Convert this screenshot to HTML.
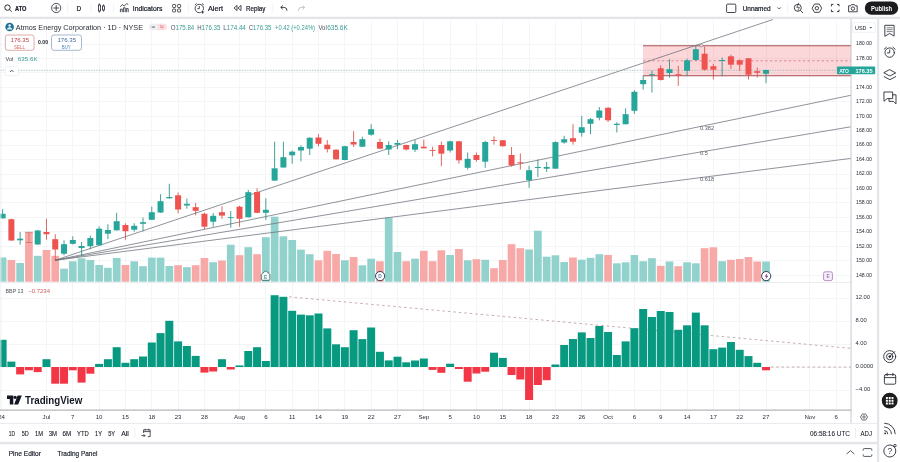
<!DOCTYPE html>
<html lang="en"><head><meta charset="utf-8"><title>ATO chart</title>
<style>html,body{margin:0;padding:0;background:#fff;width:900px;height:462px;overflow:hidden}svg{display:block}text{white-space:pre}</style>
</head><body>
<svg width="900" height="462" viewBox="0 0 900 462" font-family='"Liberation Sans", Arial, sans-serif'>
<rect width="900" height="462" fill="#fff"/>
<g stroke="#f4f5f7" stroke-width="1" shape-rendering="crispEdges">
<line x1="46.5" y1="19.5" x2="46.5" y2="410"/>
<line x1="72.8" y1="19.5" x2="72.8" y2="410"/>
<line x1="99.1" y1="19.5" x2="99.1" y2="410"/>
<line x1="125.5" y1="19.5" x2="125.5" y2="410"/>
<line x1="151.8" y1="19.5" x2="151.8" y2="410"/>
<line x1="178.1" y1="19.5" x2="178.1" y2="410"/>
<line x1="204.4" y1="19.5" x2="204.4" y2="410"/>
<line x1="239.5" y1="19.5" x2="239.5" y2="410"/>
<line x1="265.9" y1="19.5" x2="265.9" y2="410"/>
<line x1="292.2" y1="19.5" x2="292.2" y2="410"/>
<line x1="318.5" y1="19.5" x2="318.5" y2="410"/>
<line x1="344.8" y1="19.5" x2="344.8" y2="410"/>
<line x1="371.2" y1="19.5" x2="371.2" y2="410"/>
<line x1="397.5" y1="19.5" x2="397.5" y2="410"/>
<line x1="423.8" y1="19.5" x2="423.8" y2="410"/>
<line x1="450.1" y1="19.5" x2="450.1" y2="410"/>
<line x1="476.5" y1="19.5" x2="476.5" y2="410"/>
<line x1="502.8" y1="19.5" x2="502.8" y2="410"/>
<line x1="529.1" y1="19.5" x2="529.1" y2="410"/>
<line x1="555.4" y1="19.5" x2="555.4" y2="410"/>
<line x1="581.8" y1="19.5" x2="581.8" y2="410"/>
<line x1="608.1" y1="19.5" x2="608.1" y2="410"/>
<line x1="634.4" y1="19.5" x2="634.4" y2="410"/>
<line x1="660.7" y1="19.5" x2="660.7" y2="410"/>
<line x1="687.1" y1="19.5" x2="687.1" y2="410"/>
<line x1="713.4" y1="19.5" x2="713.4" y2="410"/>
<line x1="739.7" y1="19.5" x2="739.7" y2="410"/>
<line x1="766.0" y1="19.5" x2="766.0" y2="410"/>
<line x1="809.9" y1="19.5" x2="809.9" y2="410"/>
<line x1="836.2" y1="19.5" x2="836.2" y2="410"/>
<line x1="0" y1="275.2" x2="850.8" y2="275.2"/>
<line x1="0" y1="260.8" x2="850.8" y2="260.8"/>
<line x1="0" y1="246.3" x2="850.8" y2="246.3"/>
<line x1="0" y1="231.8" x2="850.8" y2="231.8"/>
<line x1="0" y1="217.4" x2="850.8" y2="217.4"/>
<line x1="0" y1="202.9" x2="850.8" y2="202.9"/>
<line x1="0" y1="188.5" x2="850.8" y2="188.5"/>
<line x1="0" y1="174.0" x2="850.8" y2="174.0"/>
<line x1="0" y1="159.6" x2="850.8" y2="159.6"/>
<line x1="0" y1="145.1" x2="850.8" y2="145.1"/>
<line x1="0" y1="130.7" x2="850.8" y2="130.7"/>
<line x1="0" y1="116.2" x2="850.8" y2="116.2"/>
<line x1="0" y1="101.8" x2="850.8" y2="101.8"/>
<line x1="0" y1="87.3" x2="850.8" y2="87.3"/>
<line x1="0" y1="72.9" x2="850.8" y2="72.9"/>
<line x1="0" y1="58.5" x2="850.8" y2="58.5"/>
<line x1="0" y1="44.0" x2="850.8" y2="44.0"/>
<line x1="0" y1="298.0" x2="850.8" y2="298.0"/>
<line x1="0" y1="321.0" x2="850.8" y2="321.0"/>
<line x1="0" y1="344.0" x2="850.8" y2="344.0"/>
<line x1="0" y1="367.0" x2="850.8" y2="367.0"/>
<line x1="0" y1="390.0" x2="850.8" y2="390.0"/>
</g>
<rect x="643" y="45.8" width="208.5" height="29.9" fill="#f23645" fill-opacity="0.2"/>
<line x1="643" y1="45.8" x2="851.5" y2="45.8" stroke="#a94c52" stroke-width="1.1"/>
<line x1="643" y1="75.7" x2="851.5" y2="75.7" stroke="#a94c52" stroke-width="1.1"/>
<line x1="643" y1="60.8" x2="851.5" y2="60.8" stroke="#d0787d" stroke-width="0.8" stroke-dasharray="2.5 2.2"/>
<rect x="-1.25" y="257.5" width="7.7" height="24.2" fill="#92d2cc"/>
<rect x="7.53" y="260.0" width="7.7" height="21.7" fill="#f7a9a7"/>
<rect x="16.30" y="263.0" width="7.7" height="18.7" fill="#92d2cc"/>
<rect x="25.08" y="232.0" width="7.7" height="49.7" fill="#f7a9a7"/>
<rect x="33.85" y="255.8" width="7.7" height="25.9" fill="#92d2cc"/>
<rect x="42.62" y="250.0" width="7.7" height="31.7" fill="#f7a9a7"/>
<rect x="51.40" y="255.8" width="7.7" height="25.9" fill="#f7a9a7"/>
<rect x="60.18" y="268.7" width="7.7" height="13.0" fill="#92d2cc"/>
<rect x="68.95" y="261.3" width="7.7" height="20.4" fill="#92d2cc"/>
<rect x="77.73" y="258.3" width="7.7" height="23.4" fill="#92d2cc"/>
<rect x="86.50" y="260.0" width="7.7" height="21.7" fill="#92d2cc"/>
<rect x="95.28" y="265.0" width="7.7" height="16.7" fill="#92d2cc"/>
<rect x="104.05" y="267.8" width="7.7" height="13.9" fill="#92d2cc"/>
<rect x="112.83" y="258.0" width="7.7" height="23.7" fill="#92d2cc"/>
<rect x="121.60" y="265.0" width="7.7" height="16.7" fill="#f7a9a7"/>
<rect x="130.38" y="261.3" width="7.7" height="20.4" fill="#92d2cc"/>
<rect x="139.15" y="266.2" width="7.7" height="15.5" fill="#92d2cc"/>
<rect x="147.93" y="257.6" width="7.7" height="24.1" fill="#92d2cc"/>
<rect x="156.70" y="257.7" width="7.7" height="24.0" fill="#92d2cc"/>
<rect x="165.47" y="266.0" width="7.7" height="15.7" fill="#92d2cc"/>
<rect x="174.25" y="265.2" width="7.7" height="16.5" fill="#f7a9a7"/>
<rect x="183.03" y="267.2" width="7.7" height="14.5" fill="#92d2cc"/>
<rect x="191.80" y="265.2" width="7.7" height="16.5" fill="#f7a9a7"/>
<rect x="200.58" y="258.0" width="7.7" height="23.7" fill="#f7a9a7"/>
<rect x="209.35" y="262.2" width="7.7" height="19.5" fill="#92d2cc"/>
<rect x="218.12" y="260.5" width="7.7" height="21.2" fill="#f7a9a7"/>
<rect x="226.90" y="244.7" width="7.7" height="37.0" fill="#92d2cc"/>
<rect x="235.68" y="255.2" width="7.7" height="26.5" fill="#f7a9a7"/>
<rect x="244.45" y="247.2" width="7.7" height="34.5" fill="#92d2cc"/>
<rect x="253.23" y="254.2" width="7.7" height="27.5" fill="#f7a9a7"/>
<rect x="262.00" y="237.2" width="7.7" height="44.5" fill="#92d2cc"/>
<rect x="270.78" y="216.7" width="7.7" height="65.0" fill="#92d2cc"/>
<rect x="279.55" y="236.3" width="7.7" height="45.4" fill="#92d2cc"/>
<rect x="288.32" y="240.0" width="7.7" height="41.7" fill="#92d2cc"/>
<rect x="297.10" y="249.6" width="7.7" height="32.1" fill="#92d2cc"/>
<rect x="305.88" y="254.2" width="7.7" height="27.5" fill="#92d2cc"/>
<rect x="314.65" y="260.3" width="7.7" height="21.4" fill="#f7a9a7"/>
<rect x="323.43" y="250.8" width="7.7" height="30.9" fill="#f7a9a7"/>
<rect x="332.20" y="254.0" width="7.7" height="27.7" fill="#f7a9a7"/>
<rect x="340.98" y="260.3" width="7.7" height="21.4" fill="#92d2cc"/>
<rect x="349.75" y="257.0" width="7.7" height="24.7" fill="#f7a9a7"/>
<rect x="358.53" y="265.3" width="7.7" height="16.4" fill="#92d2cc"/>
<rect x="367.30" y="258.7" width="7.7" height="23.0" fill="#92d2cc"/>
<rect x="376.07" y="261.3" width="7.7" height="20.4" fill="#f7a9a7"/>
<rect x="384.85" y="217.5" width="7.7" height="64.2" fill="#92d2cc"/>
<rect x="393.62" y="252.0" width="7.7" height="29.7" fill="#92d2cc"/>
<rect x="402.40" y="261.2" width="7.7" height="20.5" fill="#f7a9a7"/>
<rect x="411.18" y="258.7" width="7.7" height="23.0" fill="#92d2cc"/>
<rect x="419.95" y="250.8" width="7.7" height="30.9" fill="#f7a9a7"/>
<rect x="428.73" y="261.2" width="7.7" height="20.5" fill="#f7a9a7"/>
<rect x="437.50" y="250.3" width="7.7" height="31.4" fill="#f7a9a7"/>
<rect x="446.28" y="255.0" width="7.7" height="26.7" fill="#92d2cc"/>
<rect x="455.05" y="249.0" width="7.7" height="32.7" fill="#f7a9a7"/>
<rect x="463.83" y="260.3" width="7.7" height="21.4" fill="#92d2cc"/>
<rect x="472.60" y="259.2" width="7.7" height="22.5" fill="#f7a9a7"/>
<rect x="481.38" y="259.8" width="7.7" height="21.9" fill="#92d2cc"/>
<rect x="490.15" y="268.2" width="7.7" height="13.5" fill="#f7a9a7"/>
<rect x="498.93" y="260.0" width="7.7" height="21.7" fill="#f7a9a7"/>
<rect x="507.70" y="244.2" width="7.7" height="37.5" fill="#f7a9a7"/>
<rect x="516.48" y="248.2" width="7.7" height="33.5" fill="#f7a9a7"/>
<rect x="525.25" y="249.5" width="7.7" height="32.2" fill="#92d2cc"/>
<rect x="534.02" y="230.7" width="7.7" height="51.0" fill="#92d2cc"/>
<rect x="542.80" y="256.7" width="7.7" height="25.0" fill="#92d2cc"/>
<rect x="551.58" y="255.3" width="7.7" height="26.4" fill="#92d2cc"/>
<rect x="560.35" y="262.0" width="7.7" height="19.7" fill="#92d2cc"/>
<rect x="569.12" y="257.5" width="7.7" height="24.2" fill="#f7a9a7"/>
<rect x="577.90" y="259.7" width="7.7" height="22.0" fill="#92d2cc"/>
<rect x="586.68" y="257.8" width="7.7" height="23.9" fill="#92d2cc"/>
<rect x="595.45" y="254.2" width="7.7" height="27.5" fill="#92d2cc"/>
<rect x="604.23" y="255.0" width="7.7" height="26.7" fill="#f7a9a7"/>
<rect x="613.00" y="263.3" width="7.7" height="18.4" fill="#92d2cc"/>
<rect x="621.77" y="262.3" width="7.7" height="19.4" fill="#92d2cc"/>
<rect x="630.55" y="255.0" width="7.7" height="26.7" fill="#92d2cc"/>
<rect x="639.33" y="261.2" width="7.7" height="20.5" fill="#92d2cc"/>
<rect x="648.10" y="258.2" width="7.7" height="23.5" fill="#92d2cc"/>
<rect x="656.88" y="265.8" width="7.7" height="15.9" fill="#f7a9a7"/>
<rect x="665.65" y="261.5" width="7.7" height="20.2" fill="#92d2cc"/>
<rect x="674.43" y="266.2" width="7.7" height="15.5" fill="#f7a9a7"/>
<rect x="683.20" y="262.3" width="7.7" height="19.4" fill="#92d2cc"/>
<rect x="691.98" y="263.3" width="7.7" height="18.4" fill="#92d2cc"/>
<rect x="700.75" y="248.2" width="7.7" height="33.5" fill="#f7a9a7"/>
<rect x="709.52" y="247.3" width="7.7" height="34.4" fill="#f7a9a7"/>
<rect x="718.30" y="261.2" width="7.7" height="20.5" fill="#92d2cc"/>
<rect x="727.08" y="259.8" width="7.7" height="21.9" fill="#f7a9a7"/>
<rect x="735.85" y="259.0" width="7.7" height="22.7" fill="#f7a9a7"/>
<rect x="744.62" y="257.0" width="7.7" height="24.7" fill="#f7a9a7"/>
<rect x="753.40" y="261.5" width="7.7" height="20.2" fill="#f7a9a7"/>
<rect x="762.18" y="261.5" width="7.7" height="20.2" fill="#92d2cc"/>
<g stroke="#6c6f79" stroke-width="0.75" fill="none">
<line x1="55" y1="260.3" x2="772.9" y2="19.5"/>
<line x1="55" y1="260.3" x2="850.8" y2="95.3"/>
<line x1="55" y1="260.3" x2="850.8" y2="126.8"/>
<line x1="55" y1="260.3" x2="850.8" y2="158.4"/>
<circle cx="701.4" cy="45.6" r="1.4" fill="#fdeeee" stroke="#6c6f79" stroke-width="0.6"/>
</g>
<text x="700" y="130" font-size="5.6" fill="#555a66" text-anchor="start" font-weight="normal" >0.382</text>
<text x="700" y="155.2" font-size="5.6" fill="#555a66" text-anchor="start" font-weight="normal" >0.5</text>
<text x="700" y="180.6" font-size="5.6" fill="#555a66" text-anchor="start" font-weight="normal" >0.618</text>
<line x1="0" y1="70.3" x2="851.5" y2="70.3" stroke="#93aeaa" stroke-width="0.7" stroke-dasharray="1.4 1.2"/>
<line x1="2.60" y1="209.2" x2="2.60" y2="218.8" stroke="#258f85" stroke-width="0.85"/>
<rect x="-0.40" y="213.8" width="6" height="4.5" fill="#26a69a"/>
<line x1="11.38" y1="218.8" x2="11.38" y2="240.8" stroke="#d64c48" stroke-width="0.85"/>
<rect x="8.38" y="219.2" width="6" height="21.3" fill="#ef5350"/>
<line x1="20.15" y1="232" x2="20.15" y2="244.7" stroke="#258f85" stroke-width="0.85"/>
<rect x="17.15" y="238.7" width="6" height="1.6" fill="#26a69a"/>
<g opacity="0.55"><line x1="28.93" y1="232" x2="28.93" y2="242.8" stroke="#b0413e" stroke-width="0.8"/><rect x="25.93" y="242.2" width="6" height="0.8" fill="#b0413e"/><rect x="25.03" y="231.8" width="7.8" height="0.7" fill="#b0413e"/></g>
<line x1="37.70" y1="230" x2="37.70" y2="244.8" stroke="#258f85" stroke-width="0.85"/>
<rect x="34.70" y="230.5" width="6" height="14.0" fill="#26a69a"/>
<line x1="46.48" y1="218.8" x2="46.48" y2="239.7" stroke="#d64c48" stroke-width="0.85"/>
<rect x="43.48" y="232" width="6" height="2.2" fill="#ef5350"/>
<line x1="55.25" y1="234.2" x2="55.25" y2="260.3" stroke="#d64c48" stroke-width="0.85"/>
<rect x="52.25" y="239.2" width="6" height="10.3" fill="#ef5350"/>
<line x1="64.03" y1="240.3" x2="64.03" y2="255.3" stroke="#258f85" stroke-width="0.85"/>
<rect x="61.03" y="244.2" width="6" height="9.5" fill="#26a69a"/>
<line x1="72.80" y1="236.3" x2="72.80" y2="244.5" stroke="#258f85" stroke-width="0.85"/>
<rect x="69.80" y="240" width="6" height="3.8" fill="#26a69a"/>
<line x1="81.58" y1="242" x2="81.58" y2="256.3" stroke="#258f85" stroke-width="0.85"/>
<rect x="78.58" y="246" width="6" height="2.0" fill="#26a69a"/>
<line x1="90.35" y1="235.5" x2="90.35" y2="249.2" stroke="#258f85" stroke-width="0.85"/>
<rect x="87.35" y="238" width="6" height="8.2" fill="#26a69a"/>
<line x1="99.12" y1="226.3" x2="99.12" y2="245.5" stroke="#258f85" stroke-width="0.85"/>
<rect x="96.12" y="228.7" width="6" height="16.5" fill="#26a69a"/>
<line x1="107.90" y1="224.2" x2="107.90" y2="239.2" stroke="#258f85" stroke-width="0.85"/>
<rect x="104.90" y="230" width="6" height="3.7" fill="#26a69a"/>
<line x1="116.67" y1="212.8" x2="116.67" y2="230.5" stroke="#258f85" stroke-width="0.85"/>
<rect x="113.67" y="221.2" width="6" height="9.1" fill="#26a69a"/>
<line x1="125.45" y1="223.3" x2="125.45" y2="239.7" stroke="#d64c48" stroke-width="0.85"/>
<rect x="122.45" y="225" width="6" height="6.2" fill="#ef5350"/>
<line x1="134.22" y1="223.3" x2="134.22" y2="231.7" stroke="#258f85" stroke-width="0.85"/>
<rect x="131.22" y="225.8" width="6" height="3.9" fill="#26a69a"/>
<line x1="143.00" y1="217.5" x2="143.00" y2="231.3" stroke="#258f85" stroke-width="0.85"/>
<rect x="140.00" y="222.2" width="6" height="1.6" fill="#26a69a"/>
<line x1="151.78" y1="206.7" x2="151.78" y2="220" stroke="#258f85" stroke-width="0.85"/>
<rect x="148.78" y="212.2" width="6" height="7.6" fill="#26a69a"/>
<line x1="160.55" y1="194.2" x2="160.55" y2="213" stroke="#258f85" stroke-width="0.85"/>
<rect x="157.55" y="201.2" width="6" height="11.3" fill="#26a69a"/>
<line x1="169.32" y1="183.8" x2="169.32" y2="198.7" stroke="#258f85" stroke-width="0.85"/>
<rect x="166.32" y="197" width="6" height="1.3" fill="#26a69a"/>
<line x1="178.10" y1="192.5" x2="178.10" y2="213.3" stroke="#d64c48" stroke-width="0.85"/>
<rect x="175.10" y="195.3" width="6" height="14.2" fill="#ef5350"/>
<line x1="186.88" y1="198.7" x2="186.88" y2="208.7" stroke="#258f85" stroke-width="0.85"/>
<rect x="183.88" y="203.8" width="6" height="1.7" fill="#26a69a"/>
<line x1="195.65" y1="203" x2="195.65" y2="215.3" stroke="#d64c48" stroke-width="0.85"/>
<rect x="192.65" y="207.2" width="6" height="3.6" fill="#ef5350"/>
<line x1="204.43" y1="212.7" x2="204.43" y2="229.2" stroke="#d64c48" stroke-width="0.85"/>
<rect x="201.43" y="213.8" width="6" height="12.9" fill="#ef5350"/>
<line x1="213.20" y1="213" x2="213.20" y2="226.7" stroke="#258f85" stroke-width="0.85"/>
<rect x="210.20" y="215.8" width="6" height="5.9" fill="#26a69a"/>
<line x1="221.97" y1="206.3" x2="221.97" y2="218.8" stroke="#d64c48" stroke-width="0.85"/>
<rect x="218.97" y="212.2" width="6" height="3.4" fill="#ef5350"/>
<line x1="230.75" y1="211" x2="230.75" y2="227.7" stroke="#258f85" stroke-width="0.85"/>
<rect x="227.75" y="217.2" width="6" height="0.9" fill="#26a69a"/>
<line x1="239.53" y1="205.8" x2="239.53" y2="226.7" stroke="#d64c48" stroke-width="0.85"/>
<rect x="236.53" y="206.7" width="6" height="12.1" fill="#ef5350"/>
<line x1="248.30" y1="190" x2="248.30" y2="217.6" stroke="#258f85" stroke-width="0.85"/>
<rect x="245.30" y="192.2" width="6" height="25.0" fill="#26a69a"/>
<line x1="257.08" y1="188.3" x2="257.08" y2="213.3" stroke="#d64c48" stroke-width="0.85"/>
<rect x="254.08" y="192" width="6" height="20.8" fill="#ef5350"/>
<line x1="265.85" y1="198.3" x2="265.85" y2="220" stroke="#258f85" stroke-width="0.85"/>
<rect x="262.85" y="209.8" width="6" height="3.0" fill="#26a69a"/>
<line x1="274.63" y1="141.7" x2="274.63" y2="181" stroke="#258f85" stroke-width="0.85"/>
<rect x="271.63" y="168.3" width="6" height="12.3" fill="#26a69a"/>
<line x1="283.40" y1="141.7" x2="283.40" y2="167.5" stroke="#258f85" stroke-width="0.85"/>
<rect x="280.40" y="157.2" width="6" height="10.3" fill="#26a69a"/>
<line x1="292.18" y1="150.5" x2="292.18" y2="163.7" stroke="#258f85" stroke-width="0.85"/>
<rect x="289.18" y="151.7" width="6" height="3.6" fill="#26a69a"/>
<line x1="300.95" y1="145.3" x2="300.95" y2="161.3" stroke="#258f85" stroke-width="0.85"/>
<rect x="297.95" y="147" width="6" height="3.5" fill="#26a69a"/>
<line x1="309.73" y1="137.2" x2="309.73" y2="155" stroke="#258f85" stroke-width="0.85"/>
<rect x="306.73" y="137.8" width="6" height="10.9" fill="#26a69a"/>
<line x1="318.50" y1="134.2" x2="318.50" y2="146.3" stroke="#d64c48" stroke-width="0.85"/>
<rect x="315.50" y="137.5" width="6" height="6.3" fill="#ef5350"/>
<line x1="327.28" y1="140" x2="327.28" y2="152.5" stroke="#d64c48" stroke-width="0.85"/>
<rect x="324.28" y="144.7" width="6" height="4.5" fill="#ef5350"/>
<line x1="336.05" y1="149.2" x2="336.05" y2="159.7" stroke="#d64c48" stroke-width="0.85"/>
<rect x="333.05" y="149.7" width="6" height="9.6" fill="#ef5350"/>
<line x1="344.83" y1="145.8" x2="344.83" y2="160.3" stroke="#258f85" stroke-width="0.85"/>
<rect x="341.83" y="146.2" width="6" height="13.8" fill="#26a69a"/>
<line x1="353.60" y1="131.2" x2="353.60" y2="147" stroke="#d64c48" stroke-width="0.85"/>
<rect x="350.60" y="142" width="6" height="2.5" fill="#ef5350"/>
<line x1="362.38" y1="136.7" x2="362.38" y2="147" stroke="#258f85" stroke-width="0.85"/>
<rect x="359.38" y="139.2" width="6" height="7.5" fill="#26a69a"/>
<line x1="371.15" y1="124.2" x2="371.15" y2="135.8" stroke="#258f85" stroke-width="0.85"/>
<rect x="368.15" y="129.2" width="6" height="5.5" fill="#26a69a"/>
<line x1="379.93" y1="138.7" x2="379.93" y2="149.2" stroke="#d64c48" stroke-width="0.85"/>
<rect x="376.93" y="142" width="6" height="6.7" fill="#ef5350"/>
<line x1="388.70" y1="141.2" x2="388.70" y2="155" stroke="#258f85" stroke-width="0.85"/>
<rect x="385.70" y="145" width="6" height="4.5" fill="#26a69a"/>
<line x1="397.48" y1="140" x2="397.48" y2="149.2" stroke="#258f85" stroke-width="0.85"/>
<rect x="394.48" y="143" width="6" height="1.7" fill="#26a69a"/>
<line x1="406.25" y1="144.7" x2="406.25" y2="150.5" stroke="#d64c48" stroke-width="0.85"/>
<rect x="403.25" y="145" width="6" height="4.5" fill="#ef5350"/>
<line x1="415.03" y1="140" x2="415.03" y2="152" stroke="#258f85" stroke-width="0.85"/>
<rect x="412.03" y="144.2" width="6" height="5.5" fill="#26a69a"/>
<line x1="423.80" y1="139.7" x2="423.80" y2="148.3" stroke="#d64c48" stroke-width="0.85"/>
<rect x="420.80" y="146.7" width="6" height="1.6" fill="#ef5350"/>
<line x1="432.58" y1="146.7" x2="432.58" y2="156.3" stroke="#d64c48" stroke-width="0.85"/>
<rect x="429.58" y="150" width="6" height="0.9" fill="#ef5350"/>
<line x1="441.35" y1="141.7" x2="441.35" y2="166.2" stroke="#d64c48" stroke-width="0.85"/>
<rect x="438.35" y="145" width="6" height="8.7" fill="#ef5350"/>
<line x1="450.13" y1="140.8" x2="450.13" y2="152.5" stroke="#258f85" stroke-width="0.85"/>
<rect x="447.13" y="141.3" width="6" height="9.2" fill="#26a69a"/>
<line x1="458.90" y1="140.8" x2="458.90" y2="163.7" stroke="#d64c48" stroke-width="0.85"/>
<rect x="455.90" y="141.3" width="6" height="19.0" fill="#ef5350"/>
<line x1="467.68" y1="152.5" x2="467.68" y2="169.5" stroke="#258f85" stroke-width="0.85"/>
<rect x="464.68" y="158.8" width="6" height="9.0" fill="#26a69a"/>
<line x1="476.45" y1="152.5" x2="476.45" y2="161.7" stroke="#d64c48" stroke-width="0.85"/>
<rect x="473.45" y="155" width="6" height="5.0" fill="#ef5350"/>
<line x1="485.23" y1="140.8" x2="485.23" y2="167.8" stroke="#258f85" stroke-width="0.85"/>
<rect x="482.23" y="142" width="6" height="19.7" fill="#26a69a"/>
<line x1="494.00" y1="136.3" x2="494.00" y2="144.7" stroke="#d64c48" stroke-width="0.85"/>
<rect x="491.00" y="140" width="6" height="0.9" fill="#ef5350"/>
<line x1="502.78" y1="140" x2="502.78" y2="146.7" stroke="#d64c48" stroke-width="0.85"/>
<rect x="499.78" y="140.3" width="6" height="5.9" fill="#ef5350"/>
<line x1="511.55" y1="147" x2="511.55" y2="166.7" stroke="#d64c48" stroke-width="0.85"/>
<rect x="508.55" y="155" width="6" height="10.5" fill="#ef5350"/>
<line x1="520.33" y1="153.3" x2="520.33" y2="169.6" stroke="#d64c48" stroke-width="0.85"/>
<rect x="517.33" y="162.3" width="6" height="1.0" fill="#ef5350"/>
<line x1="529.10" y1="165.8" x2="529.10" y2="187.8" stroke="#258f85" stroke-width="0.85"/>
<rect x="526.10" y="170.2" width="6" height="10.1" fill="#26a69a"/>
<line x1="537.88" y1="159.5" x2="537.88" y2="177" stroke="#258f85" stroke-width="0.85"/>
<rect x="534.88" y="167" width="6" height="1.0" fill="#26a69a"/>
<line x1="546.65" y1="162" x2="546.65" y2="172" stroke="#258f85" stroke-width="0.85"/>
<rect x="543.65" y="167" width="6" height="1.7" fill="#26a69a"/>
<line x1="555.43" y1="141.3" x2="555.43" y2="168.7" stroke="#258f85" stroke-width="0.85"/>
<rect x="552.43" y="142.1" width="6" height="26.6" fill="#26a69a"/>
<line x1="564.20" y1="135.8" x2="564.20" y2="143.7" stroke="#258f85" stroke-width="0.85"/>
<rect x="561.20" y="139.2" width="6" height="3.3" fill="#26a69a"/>
<line x1="572.98" y1="124.2" x2="572.98" y2="144.7" stroke="#d64c48" stroke-width="0.85"/>
<rect x="569.98" y="138.2" width="6" height="3.5" fill="#ef5350"/>
<line x1="581.75" y1="115.8" x2="581.75" y2="136.7" stroke="#258f85" stroke-width="0.85"/>
<rect x="578.75" y="127.2" width="6" height="5.6" fill="#26a69a"/>
<line x1="590.53" y1="118" x2="590.53" y2="134.2" stroke="#258f85" stroke-width="0.85"/>
<rect x="587.53" y="119.2" width="6" height="4.6" fill="#26a69a"/>
<line x1="599.30" y1="107" x2="599.30" y2="120.3" stroke="#258f85" stroke-width="0.85"/>
<rect x="596.30" y="110.5" width="6" height="7.3" fill="#26a69a"/>
<line x1="608.08" y1="107.2" x2="608.08" y2="122" stroke="#d64c48" stroke-width="0.85"/>
<rect x="605.08" y="107.8" width="6" height="12.5" fill="#ef5350"/>
<line x1="616.85" y1="122.2" x2="616.85" y2="132.5" stroke="#258f85" stroke-width="0.85"/>
<rect x="613.85" y="123.8" width="6" height="1.2" fill="#26a69a"/>
<line x1="625.62" y1="108.3" x2="625.62" y2="124.5" stroke="#258f85" stroke-width="0.85"/>
<rect x="622.62" y="114.2" width="6" height="10.0" fill="#26a69a"/>
<line x1="634.40" y1="90" x2="634.40" y2="113.8" stroke="#258f85" stroke-width="0.85"/>
<rect x="631.40" y="91.8" width="6" height="19.0" fill="#26a69a"/>
<line x1="643.18" y1="75.8" x2="643.18" y2="89.7" stroke="#258f85" stroke-width="0.85"/>
<rect x="640.18" y="80" width="6" height="4.2" fill="#26a69a"/>
<line x1="651.95" y1="70.8" x2="651.95" y2="92.5" stroke="#258f85" stroke-width="0.85"/>
<rect x="648.95" y="74.2" width="6" height="0.9" fill="#26a69a"/>
<line x1="660.73" y1="65.3" x2="660.73" y2="80.5" stroke="#d64c48" stroke-width="0.85"/>
<rect x="657.73" y="68.3" width="6" height="11.7" fill="#ef5350"/>
<line x1="669.50" y1="59.2" x2="669.50" y2="77.5" stroke="#258f85" stroke-width="0.85"/>
<rect x="666.50" y="69.2" width="6" height="3.8" fill="#26a69a"/>
<line x1="678.28" y1="65.8" x2="678.28" y2="85.8" stroke="#d64c48" stroke-width="0.85"/>
<rect x="675.28" y="74.2" width="6" height="1.1" fill="#ef5350"/>
<line x1="687.05" y1="58.7" x2="687.05" y2="75.8" stroke="#258f85" stroke-width="0.85"/>
<rect x="684.05" y="60.3" width="6" height="10.5" fill="#26a69a"/>
<line x1="695.83" y1="45.8" x2="695.83" y2="60.8" stroke="#258f85" stroke-width="0.85"/>
<rect x="692.83" y="49.2" width="6" height="10.8" fill="#26a69a"/>
<line x1="704.60" y1="46.7" x2="704.60" y2="70.5" stroke="#d64c48" stroke-width="0.85"/>
<rect x="701.60" y="53.7" width="6" height="16.0" fill="#ef5350"/>
<line x1="713.38" y1="63.8" x2="713.38" y2="79.5" stroke="#d64c48" stroke-width="0.85"/>
<rect x="710.38" y="66.2" width="6" height="3.5" fill="#ef5350"/>
<line x1="722.15" y1="57.5" x2="722.15" y2="76.3" stroke="#258f85" stroke-width="0.85"/>
<rect x="719.15" y="60" width="6" height="1.0" fill="#26a69a"/>
<line x1="730.93" y1="54.7" x2="730.93" y2="68.7" stroke="#d64c48" stroke-width="0.85"/>
<rect x="727.93" y="56.3" width="6" height="8.4" fill="#ef5350"/>
<line x1="739.70" y1="59.2" x2="739.70" y2="70.8" stroke="#d64c48" stroke-width="0.85"/>
<rect x="736.70" y="60.3" width="6" height="4.4" fill="#ef5350"/>
<line x1="748.48" y1="58" x2="748.48" y2="79.5" stroke="#d64c48" stroke-width="0.85"/>
<rect x="745.48" y="58.3" width="6" height="16.4" fill="#ef5350"/>
<line x1="757.25" y1="67.5" x2="757.25" y2="77.5" stroke="#d64c48" stroke-width="0.85"/>
<rect x="754.25" y="71.2" width="6" height="1.6" fill="#ef5350"/>
<line x1="766.03" y1="69.7" x2="766.03" y2="83.3" stroke="#258f85" stroke-width="0.85"/>
<rect x="763.03" y="70" width="6" height="3.8" fill="#26a69a"/>
<rect x="0" y="282" width="877" height="1" fill="#eaecf0"/>
<line x1="289" y1="296.8" x2="851.5" y2="348.4" stroke="#bb9a9a" stroke-width="0.8" stroke-dasharray="2.6 2.9"/>
<rect x="-1.40" y="339.8" width="8" height="27.2" fill="#089981"/>
<rect x="7.38" y="361.6" width="8" height="5.4" fill="#089981"/>
<rect x="16.15" y="367" width="8" height="7.4" fill="#f23645"/>
<rect x="24.93" y="367" width="8" height="3.3" fill="#f23645"/>
<rect x="33.70" y="367" width="8" height="5.1" fill="#f23645"/>
<rect x="42.48" y="359.2" width="8" height="7.8" fill="#089981"/>
<rect x="51.25" y="367" width="8" height="16.7" fill="#f23645"/>
<rect x="60.03" y="367" width="8" height="16.7" fill="#f23645"/>
<rect x="68.80" y="367" width="8" height="3.3" fill="#f23645"/>
<rect x="77.58" y="367" width="8" height="15.6" fill="#f23645"/>
<rect x="86.35" y="367" width="8" height="6.7" fill="#f23645"/>
<rect x="95.12" y="363.9" width="8" height="3.1" fill="#089981"/>
<rect x="103.90" y="359.2" width="8" height="7.8" fill="#089981"/>
<rect x="112.67" y="347.2" width="8" height="19.8" fill="#089981"/>
<rect x="121.45" y="362.8" width="8" height="4.2" fill="#089981"/>
<rect x="130.22" y="359.2" width="8" height="7.8" fill="#089981"/>
<rect x="139.00" y="356.5" width="8" height="10.5" fill="#089981"/>
<rect x="147.78" y="342.5" width="8" height="24.5" fill="#089981"/>
<rect x="156.55" y="333.1" width="8" height="33.9" fill="#089981"/>
<rect x="165.32" y="320.8" width="8" height="46.2" fill="#089981"/>
<rect x="174.10" y="341.4" width="8" height="25.6" fill="#089981"/>
<rect x="182.88" y="346.0" width="8" height="21.0" fill="#089981"/>
<rect x="191.65" y="355.9" width="8" height="11.1" fill="#089981"/>
<rect x="200.43" y="367" width="8" height="5.6" fill="#f23645"/>
<rect x="209.20" y="367" width="8" height="4.5" fill="#f23645"/>
<rect x="217.97" y="359.2" width="8" height="7.8" fill="#089981"/>
<rect x="226.75" y="367" width="8" height="2.5" fill="#f23645"/>
<rect x="235.53" y="365.4" width="8" height="1.6" fill="#089981"/>
<rect x="244.30" y="351.0" width="8" height="16.0" fill="#089981"/>
<rect x="253.08" y="347.2" width="8" height="19.8" fill="#089981"/>
<rect x="261.85" y="361.0" width="8" height="6.0" fill="#089981"/>
<rect x="270.63" y="295.2" width="8" height="71.8" fill="#089981"/>
<rect x="279.40" y="296.8" width="8" height="70.2" fill="#089981"/>
<rect x="288.18" y="310.8" width="8" height="56.2" fill="#089981"/>
<rect x="296.95" y="314.6" width="8" height="52.4" fill="#089981"/>
<rect x="305.73" y="315.3" width="8" height="51.7" fill="#089981"/>
<rect x="314.50" y="313.5" width="8" height="53.5" fill="#089981"/>
<rect x="323.28" y="328.4" width="8" height="38.6" fill="#089981"/>
<rect x="332.05" y="344.3" width="8" height="22.7" fill="#089981"/>
<rect x="340.83" y="347.2" width="8" height="19.8" fill="#089981"/>
<rect x="349.60" y="330.2" width="8" height="36.8" fill="#089981"/>
<rect x="358.38" y="339.1" width="8" height="27.9" fill="#089981"/>
<rect x="367.15" y="327.5" width="8" height="39.5" fill="#089981"/>
<rect x="375.93" y="351.8" width="8" height="15.2" fill="#089981"/>
<rect x="384.70" y="360.4" width="8" height="6.6" fill="#089981"/>
<rect x="393.48" y="356.7" width="8" height="10.3" fill="#089981"/>
<rect x="402.25" y="362.3" width="8" height="4.7" fill="#089981"/>
<rect x="411.03" y="360.5" width="8" height="6.5" fill="#089981"/>
<rect x="419.80" y="358.5" width="8" height="8.5" fill="#089981"/>
<rect x="428.58" y="367" width="8" height="2.9" fill="#f23645"/>
<rect x="437.35" y="367" width="8" height="5.8" fill="#f23645"/>
<rect x="446.13" y="363.7" width="8" height="3.3" fill="#089981"/>
<rect x="454.90" y="367" width="8" height="2.0" fill="#f23645"/>
<rect x="463.68" y="367" width="8" height="14.7" fill="#f23645"/>
<rect x="472.45" y="367" width="8" height="6.5" fill="#f23645"/>
<rect x="481.23" y="367" width="8" height="4.7" fill="#f23645"/>
<rect x="490.00" y="352.7" width="8" height="14.3" fill="#089981"/>
<rect x="498.78" y="357.9" width="8" height="9.1" fill="#089981"/>
<rect x="507.55" y="367" width="8" height="8.0" fill="#f23645"/>
<rect x="516.33" y="367" width="8" height="12.5" fill="#f23645"/>
<rect x="525.10" y="367" width="8" height="33.0" fill="#f23645"/>
<rect x="533.88" y="367" width="8" height="18.0" fill="#f23645"/>
<rect x="542.65" y="367" width="8" height="13.2" fill="#f23645"/>
<rect x="551.43" y="364.5" width="8" height="2.5" fill="#089981"/>
<rect x="560.20" y="345.0" width="8" height="22.0" fill="#089981"/>
<rect x="568.98" y="339.0" width="8" height="28.0" fill="#089981"/>
<rect x="577.75" y="332.4" width="8" height="34.6" fill="#089981"/>
<rect x="586.53" y="338.0" width="8" height="29.0" fill="#089981"/>
<rect x="595.30" y="326.0" width="8" height="41.0" fill="#089981"/>
<rect x="604.08" y="332.0" width="8" height="35.0" fill="#089981"/>
<rect x="612.85" y="355.0" width="8" height="12.0" fill="#089981"/>
<rect x="621.62" y="341.4" width="8" height="25.6" fill="#089981"/>
<rect x="630.40" y="328.2" width="8" height="38.8" fill="#089981"/>
<rect x="639.18" y="309.0" width="8" height="58.0" fill="#089981"/>
<rect x="647.95" y="317.0" width="8" height="50.0" fill="#089981"/>
<rect x="656.73" y="311.0" width="8" height="56.0" fill="#089981"/>
<rect x="665.50" y="312.0" width="8" height="55.0" fill="#089981"/>
<rect x="674.28" y="329.8" width="8" height="37.2" fill="#089981"/>
<rect x="683.05" y="325.3" width="8" height="41.7" fill="#089981"/>
<rect x="691.83" y="312.6" width="8" height="54.4" fill="#089981"/>
<rect x="700.60" y="325.3" width="8" height="41.7" fill="#089981"/>
<rect x="709.38" y="349.2" width="8" height="17.8" fill="#089981"/>
<rect x="718.15" y="347.6" width="8" height="19.4" fill="#089981"/>
<rect x="726.93" y="342.0" width="8" height="25.0" fill="#089981"/>
<rect x="735.70" y="349.8" width="8" height="17.2" fill="#089981"/>
<rect x="744.48" y="356.1" width="8" height="10.9" fill="#089981"/>
<rect x="753.25" y="362.8" width="8" height="4.2" fill="#089981"/>
<rect x="762.03" y="367" width="8" height="3.3" fill="#f23645"/>
<line x1="771" y1="367" x2="851.5" y2="367" stroke="#bb9a9a" stroke-width="0.8" stroke-dasharray="2.6 2.6"/>
<g><path d="M261.3 279.4 v-4.6 q0 -0.6 0.5 -1 l3.1 -2.5 q0.7 -0.5 1.4 0 l3.1 2.5 q0.5 0.4 0.5 1 v4.6 q0 0.9 -0.9 0.9 h-6.8 q-0.9 0 -0.9 -0.9 z" fill="#effbfa" stroke="#24504b" stroke-width="0.75" stroke-linejoin="round"/></g>
<text x="265.6" y="278.9" font-size="4.8" fill="#6f8a87" text-anchor="middle" font-weight="bold" >E</text>
<circle cx="380.1" cy="276.1" r="4.6" fill="#fff" stroke="#1e2a44" stroke-width="0.9"/>
<text x="380.1" y="277.9" font-size="4.8" fill="#5f7fb5" text-anchor="middle" font-weight="bold" >D</text>
<circle cx="766.2" cy="276.1" r="4.6" fill="#fff" stroke="#1e2a44" stroke-width="0.9"/>
<path d="M767.3 273.3 l-2.6 3.3 h1.8 l-1 2.8 l2.8 -3.6 h-1.8 z" fill="#6a2c70"/>
<rect x="823.6" y="271.8" width="8.8" height="8.8" rx="1.6" fill="#f7eefb" stroke="#b392c2" stroke-width="1"/>
<text x="828" y="278" font-size="4.8" fill="#9a7aa8" text-anchor="middle" font-weight="bold" >E</text>
<rect x="851" y="19.5" width="26.3" height="404" fill="#fff"/>
<text x="856" y="276.5" font-size="5.8" fill="#2a2e39" text-anchor="start" font-weight="normal"  textLength="16" lengthAdjust="spacingAndGlyphs">148.00</text>
<text x="856" y="262.05" font-size="5.8" fill="#2a2e39" text-anchor="start" font-weight="normal"  textLength="16" lengthAdjust="spacingAndGlyphs">150.00</text>
<text x="856" y="247.6" font-size="5.8" fill="#2a2e39" text-anchor="start" font-weight="normal"  textLength="16" lengthAdjust="spacingAndGlyphs">152.00</text>
<text x="856" y="233.15" font-size="5.8" fill="#2a2e39" text-anchor="start" font-weight="normal"  textLength="16" lengthAdjust="spacingAndGlyphs">154.00</text>
<text x="856" y="218.7" font-size="5.8" fill="#2a2e39" text-anchor="start" font-weight="normal"  textLength="16" lengthAdjust="spacingAndGlyphs">156.00</text>
<text x="856" y="204.25" font-size="5.8" fill="#2a2e39" text-anchor="start" font-weight="normal"  textLength="16" lengthAdjust="spacingAndGlyphs">158.00</text>
<text x="856" y="189.8" font-size="5.8" fill="#2a2e39" text-anchor="start" font-weight="normal"  textLength="16" lengthAdjust="spacingAndGlyphs">160.00</text>
<text x="856" y="175.35" font-size="5.8" fill="#2a2e39" text-anchor="start" font-weight="normal"  textLength="16" lengthAdjust="spacingAndGlyphs">162.00</text>
<text x="856" y="160.9" font-size="5.8" fill="#2a2e39" text-anchor="start" font-weight="normal"  textLength="16" lengthAdjust="spacingAndGlyphs">164.00</text>
<text x="856" y="146.45" font-size="5.8" fill="#2a2e39" text-anchor="start" font-weight="normal"  textLength="16" lengthAdjust="spacingAndGlyphs">166.00</text>
<text x="856" y="132.0" font-size="5.8" fill="#2a2e39" text-anchor="start" font-weight="normal"  textLength="16" lengthAdjust="spacingAndGlyphs">168.00</text>
<text x="856" y="117.55" font-size="5.8" fill="#2a2e39" text-anchor="start" font-weight="normal"  textLength="16" lengthAdjust="spacingAndGlyphs">170.00</text>
<text x="856" y="103.1" font-size="5.8" fill="#2a2e39" text-anchor="start" font-weight="normal"  textLength="16" lengthAdjust="spacingAndGlyphs">172.00</text>
<text x="856" y="88.64999999999999" font-size="5.8" fill="#2a2e39" text-anchor="start" font-weight="normal"  textLength="16" lengthAdjust="spacingAndGlyphs">174.00</text>
<text x="856" y="59.75" font-size="5.8" fill="#2a2e39" text-anchor="start" font-weight="normal"  textLength="16" lengthAdjust="spacingAndGlyphs">178.00</text>
<text x="856" y="45.3" font-size="5.8" fill="#2a2e39" text-anchor="start" font-weight="normal"  textLength="16" lengthAdjust="spacingAndGlyphs">180.00</text>
<text x="855.5" y="299.4" font-size="5.8" fill="#2a2e39" text-anchor="start" font-weight="normal" >12.00</text>
<text x="855.5" y="322.4" font-size="5.8" fill="#2a2e39" text-anchor="start" font-weight="normal" >8.00</text>
<text x="855.5" y="345.4" font-size="5.8" fill="#2a2e39" text-anchor="start" font-weight="normal" >4.00</text>
<text x="855.5" y="368.4" font-size="5.8" fill="#2a2e39" text-anchor="start" font-weight="normal" >0.0000</text>
<text x="855.5" y="391.4" font-size="5.8" fill="#2a2e39" text-anchor="start" font-weight="normal" >−4.00</text>
<rect x="852.6" y="22.6" width="22.6" height="9.8" rx="1" fill="#fff" stroke="#e6e8ee" stroke-width="0.6"/>
<text x="855" y="29.6" font-size="5.4" fill="#131722" text-anchor="start" font-weight="normal" >USD</text>
<path d="M869.3 26.9 l1.5 1.6 l1.5 -1.6 z" fill="#50535e"/>
<circle cx="9.6" cy="27" r="4.3" fill="#1f6f96"/>
<circle cx="9.6" cy="25.6" r="1.25" fill="#e6f6fb"/><path d="M7 29.6 a1.3 1.3 0 0 1 2.6 -0.6 a1.3 1.3 0 0 1 2.6 0.6 z M8.6 27.2 h2 l0.6 1.4 h-3.2 z" fill="#e6f6fb"/>
<rect x="0.4" y="19.1" width="0.9" height="404" fill="#eceef1"/>
<text x="15.8" y="29.7" font-size="7.4" fill="#2a2e39" text-anchor="start" font-weight="normal"  textLength="127.2" lengthAdjust="spacingAndGlyphs">Atmos Energy Corporation · 1D · NYSE</text>
<rect x="148.6" y="23.8" width="18.2" height="6.4" rx="3.2" fill="#eef0f4"/>
<path d="M157.5 23.8 h6.1 a3.2 3.2 0 0 1 0 6.4 h-6.1 z" fill="#fbdfe2"/>
<rect x="151.6" y="26.6" width="3.4" height="0.9" fill="#555"/>
<path d="M160 26 q0.9 -0.8 1.8 0 t1.8 0 M160 27.6 q0.9 -0.8 1.8 0 t1.8 0" stroke="#e0526a" stroke-width="0.6" fill="none"/>
<text x="170.8" y="29.9" font-size="6.4" textLength="23.4" lengthAdjust="spacingAndGlyphs"><tspan fill="#50535e">O</tspan><tspan fill="#3a9d93">175.84</tspan></text>
<text x="197.2" y="29.9" font-size="6.4" textLength="23.1" lengthAdjust="spacingAndGlyphs"><tspan fill="#50535e">H</tspan><tspan fill="#3a9d93">176.35</tspan></text>
<text x="223.3" y="29.9" font-size="6.4" textLength="22.5" lengthAdjust="spacingAndGlyphs"><tspan fill="#50535e">L</tspan><tspan fill="#3a9d93">174.44</tspan></text>
<text x="248.7" y="29.9" font-size="6.4" textLength="22.6" lengthAdjust="spacingAndGlyphs"><tspan fill="#50535e">C</tspan><tspan fill="#3a9d93">176.35</tspan></text>
<text x="275" y="29.9" font-size="6.4" fill="#3a9d93" text-anchor="start" font-weight="normal"  textLength="40" lengthAdjust="spacingAndGlyphs">+0.42 (+0.24%)</text>
<text x="318.5" y="29.9" font-size="6.4" fill="#50535e" text-anchor="start" font-weight="normal"  textLength="8.2" lengthAdjust="spacingAndGlyphs">Vol</text>
<text x="327.2" y="29.9" font-size="6.4" fill="#3a9d93" text-anchor="start" font-weight="normal"  textLength="20.6" lengthAdjust="spacingAndGlyphs">635.6K</text>
<rect x="5.3" y="35" width="28.7" height="15.3" rx="2.4" fill="#fff" stroke="#cf8a88" stroke-width="0.7"/>
<text x="10.6" y="41.5" font-size="6.1" fill="#b8413f" text-anchor="start" font-weight="normal"  textLength="18.5" lengthAdjust="spacingAndGlyphs">176.35</text>
<text x="14.1" y="48.6" font-size="4.7" fill="#d65f5c" text-anchor="start" font-weight="normal"  textLength="10.9" lengthAdjust="spacingAndGlyphs">SELL</text>
<text x="38.1" y="44.4" font-size="4.8" fill="#131722" text-anchor="start" font-weight="bold"  textLength="9.9" lengthAdjust="spacingAndGlyphs">0.00</text>
<rect x="51.5" y="35" width="30" height="15.3" rx="2.4" fill="#fff" stroke="#7f9cb8" stroke-width="0.7"/>
<text x="57.4" y="41.5" font-size="6.1" fill="#3f6c9e" text-anchor="start" font-weight="normal"  textLength="18.7" lengthAdjust="spacingAndGlyphs">176.35</text>
<text x="61.7" y="48.6" font-size="4.7" fill="#4f86bd" text-anchor="start" font-weight="normal"  textLength="9.1" lengthAdjust="spacingAndGlyphs">BUY</text>
<text x="5.6" y="61.1" font-size="5.9" fill="#40434d" text-anchor="start" font-weight="normal"  textLength="7.7" lengthAdjust="spacingAndGlyphs">Vol</text>
<text x="17.8" y="61.1" font-size="5.9" fill="#3a9d93" text-anchor="start" font-weight="normal"  textLength="19.8" lengthAdjust="spacingAndGlyphs">635.6K</text>
<rect x="5.2" y="66.3" width="13" height="9.4" rx="1.2" fill="#fff" stroke="#e6e8ee" stroke-width="0.6"/>
<path d="M9.9 72 l1.8 -1.9 l1.8 1.9" stroke="#2a2e39" stroke-width="0.8" fill="none"/>
<text x="5.6" y="293" font-size="5.8" fill="#50535e" text-anchor="start" font-weight="normal"  textLength="17.8" lengthAdjust="spacingAndGlyphs">BBP 13</text>
<text x="28.3" y="293" font-size="5.8" fill="#cf5f5d" text-anchor="start" font-weight="normal"  textLength="21.7" lengthAdjust="spacingAndGlyphs">−0.7234</text>
<g fill="#131722"><path d="M7 395.6 h6.3 v8.8 h-3.5 v-5.4 h-2.8 z"/><circle cx="15.1" cy="397.3" r="1.65"/><path d="M17.6 395.6 h4.2 l-3.6 8.8 h-4.1 z"/></g>
<text x="25" y="404.3" font-size="10.6" fill="#131722" text-anchor="start" font-weight="bold"  textLength="57.3" lengthAdjust="spacingAndGlyphs">TradingView</text>
<rect x="0" y="410" width="877" height="13" fill="#fff"/>
<rect x="0" y="409.6" width="851.5" height="1" fill="#a2a4ab"/>
<rect x="850.6" y="19.2" width="0.9" height="404" fill="#c2c4ca"/>
<rect x="837" y="66.5" width="38.2" height="7.8" rx="0.8" fill="#26a69a"/>
<text x="839.4" y="72.5" font-size="5.6" fill="#fff" text-anchor="start" font-weight="normal"  textLength="9.4" lengthAdjust="spacingAndGlyphs" stroke="#fff" stroke-width="0.15">ATO</text>
<text x="855.4" y="72.5" font-size="5.8" fill="#fff" text-anchor="start" font-weight="bold"  textLength="17.2" lengthAdjust="spacingAndGlyphs">176.35</text>
<text x="20.2" y="418.9" font-size="6.1" fill="#2a2e39" text-anchor="middle" font-weight="normal" ></text>
<text x="46.5" y="418.9" font-size="6.1" fill="#2a2e39" text-anchor="middle" font-weight="normal" >Jul</text>
<text x="72.8" y="418.9" font-size="6.1" fill="#2a2e39" text-anchor="middle" font-weight="normal" >7</text>
<text x="99.1" y="418.9" font-size="6.1" fill="#2a2e39" text-anchor="middle" font-weight="normal" >10</text>
<text x="125.5" y="418.9" font-size="6.1" fill="#2a2e39" text-anchor="middle" font-weight="normal" >15</text>
<text x="151.8" y="418.9" font-size="6.1" fill="#2a2e39" text-anchor="middle" font-weight="normal" >18</text>
<text x="178.1" y="418.9" font-size="6.1" fill="#2a2e39" text-anchor="middle" font-weight="normal" >23</text>
<text x="204.4" y="418.9" font-size="6.1" fill="#2a2e39" text-anchor="middle" font-weight="normal" >28</text>
<text x="239.5" y="418.9" font-size="6.1" fill="#2a2e39" text-anchor="middle" font-weight="normal" >Aug</text>
<text x="265.9" y="418.9" font-size="6.1" fill="#2a2e39" text-anchor="middle" font-weight="normal" >6</text>
<text x="292.2" y="418.9" font-size="6.1" fill="#2a2e39" text-anchor="middle" font-weight="normal" >11</text>
<text x="318.5" y="418.9" font-size="6.1" fill="#2a2e39" text-anchor="middle" font-weight="normal" >14</text>
<text x="344.8" y="418.9" font-size="6.1" fill="#2a2e39" text-anchor="middle" font-weight="normal" >19</text>
<text x="371.2" y="418.9" font-size="6.1" fill="#2a2e39" text-anchor="middle" font-weight="normal" >22</text>
<text x="397.5" y="418.9" font-size="6.1" fill="#2a2e39" text-anchor="middle" font-weight="normal" >27</text>
<text x="423.8" y="418.9" font-size="6.1" fill="#2a2e39" text-anchor="middle" font-weight="normal" >Sep</text>
<text x="450.1" y="418.9" font-size="6.1" fill="#2a2e39" text-anchor="middle" font-weight="normal" >5</text>
<text x="476.5" y="418.9" font-size="6.1" fill="#2a2e39" text-anchor="middle" font-weight="normal" >10</text>
<text x="502.8" y="418.9" font-size="6.1" fill="#2a2e39" text-anchor="middle" font-weight="normal" >15</text>
<text x="529.1" y="418.9" font-size="6.1" fill="#2a2e39" text-anchor="middle" font-weight="normal" >18</text>
<text x="555.4" y="418.9" font-size="6.1" fill="#2a2e39" text-anchor="middle" font-weight="normal" >23</text>
<text x="581.8" y="418.9" font-size="6.1" fill="#2a2e39" text-anchor="middle" font-weight="normal" >26</text>
<text x="608.1" y="418.9" font-size="6.1" fill="#2a2e39" text-anchor="middle" font-weight="normal" >Oct</text>
<text x="634.4" y="418.9" font-size="6.1" fill="#2a2e39" text-anchor="middle" font-weight="normal" >6</text>
<text x="660.7" y="418.9" font-size="6.1" fill="#2a2e39" text-anchor="middle" font-weight="normal" >9</text>
<text x="687.1" y="418.9" font-size="6.1" fill="#2a2e39" text-anchor="middle" font-weight="normal" >14</text>
<text x="713.4" y="418.9" font-size="6.1" fill="#2a2e39" text-anchor="middle" font-weight="normal" >17</text>
<text x="739.7" y="418.9" font-size="6.1" fill="#2a2e39" text-anchor="middle" font-weight="normal" >22</text>
<text x="766.0" y="418.9" font-size="6.1" fill="#2a2e39" text-anchor="middle" font-weight="normal" >27</text>
<text x="809.9" y="418.9" font-size="6.1" fill="#2a2e39" text-anchor="middle" font-weight="normal" >Nov</text>
<text x="836.2" y="418.9" font-size="6.1" fill="#2a2e39" text-anchor="middle" font-weight="normal" >6</text>
<text x="1.6" y="418.9" font-size="6.1" fill="#2a2e39" text-anchor="middle" font-weight="normal" >24</text>
<g stroke="#2a2e39" stroke-width="0.7" fill="none" stroke-linejoin="round"><path d="M867.50 417.00 L865.75 420.03 L862.25 420.03 L860.50 417.00 L862.25 413.97 L865.75 413.97 Z"/><circle cx="864" cy="417" r="1.2"/></g>
<rect x="0" y="423" width="877" height="0.7" fill="#e0e3eb"/>
<text x="8.75" y="435.7" font-size="6.6" fill="#131722" text-anchor="start" font-weight="normal"  textLength="6.25" lengthAdjust="spacingAndGlyphs" stroke="#131722" stroke-width="0.1">1D</text>
<text x="21.75" y="435.7" font-size="6.6" fill="#131722" text-anchor="start" font-weight="normal"  textLength="7" lengthAdjust="spacingAndGlyphs" stroke="#131722" stroke-width="0.1">5D</text>
<text x="35" y="435.7" font-size="6.6" fill="#131722" text-anchor="start" font-weight="normal"  textLength="8" lengthAdjust="spacingAndGlyphs" stroke="#131722" stroke-width="0.1">1M</text>
<text x="48.75" y="435.7" font-size="6.6" fill="#131722" text-anchor="start" font-weight="normal"  textLength="8.25" lengthAdjust="spacingAndGlyphs" stroke="#131722" stroke-width="0.1">3M</text>
<text x="62.5" y="435.7" font-size="6.6" fill="#131722" text-anchor="start" font-weight="normal"  textLength="8.75" lengthAdjust="spacingAndGlyphs" stroke="#131722" stroke-width="0.1">6M</text>
<text x="77" y="435.7" font-size="6.6" fill="#131722" text-anchor="start" font-weight="normal"  textLength="11.75" lengthAdjust="spacingAndGlyphs" stroke="#131722" stroke-width="0.1">YTD</text>
<text x="95" y="435.7" font-size="6.6" fill="#131722" text-anchor="start" font-weight="normal"  textLength="7" lengthAdjust="spacingAndGlyphs" stroke="#131722" stroke-width="0.1">1Y</text>
<text x="108.2" y="435.7" font-size="6.6" fill="#131722" text-anchor="start" font-weight="normal"  textLength="7" lengthAdjust="spacingAndGlyphs" stroke="#131722" stroke-width="0.1">5Y</text>
<text x="121.2" y="435.7" font-size="6.6" fill="#131722" text-anchor="start" font-weight="normal"  textLength="7.7" lengthAdjust="spacingAndGlyphs" stroke="#131722" stroke-width="0.1">All</text>
<rect x="134.6" y="428" width="0.6" height="10" fill="#e0e3eb"/>
<g stroke="#2a2e39" stroke-width="0.8" fill="none"><path d="M143.6 433 v-3.2 h6.6 v6.8 h-2.4"/><path d="M143.6 431.6 h6.6"/><path d="M145.2 428.8 v1.6 M148.6 428.8 v1.6"/><path d="M141.4 435.6 h3.6 m-1.4 -1.4 l1.4 1.4 l-1.4 1.4"/></g>
<text x="810" y="435.7" font-size="6.5" fill="#131722" text-anchor="start" font-weight="normal"  textLength="40" lengthAdjust="spacingAndGlyphs" stroke="#131722" stroke-width="0.05">06:58:16 UTC</text>
<rect x="855.4" y="428" width="0.6" height="10" fill="#e0e3eb"/>
<text x="860.5" y="435.7" font-size="6.5" fill="#131722" text-anchor="start" font-weight="normal"  textLength="11.4" lengthAdjust="spacingAndGlyphs" stroke="#131722" stroke-width="0.05">ADJ</text>
<rect x="0" y="441.8" width="877.5" height="2.5" fill="#e4e5e9"/>
<text x="8.7" y="455.5" font-size="6.5" fill="#131722" text-anchor="start" font-weight="normal"  textLength="32.3" lengthAdjust="spacingAndGlyphs" stroke="#131722" stroke-width="0.15">Pine Editor</text>
<text x="57.5" y="455.5" font-size="6.5" fill="#131722" text-anchor="start" font-weight="normal"  textLength="40" lengthAdjust="spacingAndGlyphs" stroke="#131722" stroke-width="0.15">Trading Panel</text>
<path d="M846.6 454 l3.9 -3.4 l3.9 3.4" stroke="#2a2e39" stroke-width="0.8" fill="none"/>
<path d="M863.2 450.6 v-1 a1 1 0 0 1 1 -1 h6.6 a1 1 0 0 1 1 1 v1 M863.2 454.4 v1 a1 1 0 0 0 1 1 h6.6 a1 1 0 0 0 1 -1 v-1" stroke="#2a2e39" stroke-width="0.8" fill="none"/>
<rect x="877" y="19" width="2.5" height="443" fill="#e4e5e9"/>
<rect x="879.5" y="19" width="20.5" height="443" fill="#fff"/>
<g stroke="#2a2e39" stroke-width="0.9" fill="none" stroke-linejoin="round" stroke-linecap="round">
<path d="M885.2 25.3 h8.9 v10.8 l-4.45 -2.6 l-4.45 2.6 z"/><path d="M887 27.8 h5.3 M887 29.7 h5.3 M887 31.6 h5.3" stroke-width="0.6"/>
<circle cx="889.7" cy="52.6" r="4.7"/><path d="M889.7 50 v2.9 h-2.3"/><path d="M884.2 49.2 l2.2 -1.9 M895.2 49.2 l-2.2 -1.9"/>
<path d="M889.9 69.8 l5.8 3.1 l-5.8 3.1 l-5.8 -3.1 z"/><path d="M884.1 76.6 l5.8 3.1 l5.8 -3.1"/>
<path d="M884.3 92 h8.4 v6.6 h-5.6 l-2.8 2.4 z"/><path d="M892.7 94.8 h3.3 v6.6 v2.4 l-2.6 -2.4 h-4.4 v-2.6"/>
<circle cx="889.7" cy="356.6" r="6"/><circle cx="889.7" cy="356.6" r="3.2"/><circle cx="889.7" cy="356.6" r="0.9" fill="#2a2e39"/><path d="M889.7 356.6 l5 -5"/>
<rect x="884.4" y="374.6" width="11.3" height="9.6" rx="1.4"/><path d="M884.4 377.6 h11.3 M887.2 373.2 v2.4 M892.9 373.2 v2.4"/>
</g>
<circle cx="889.7" cy="400.7" r="7.9" fill="#1c1c1e"/>
<rect x="885.9" y="396.9" width="2" height="2" rx="0.3" fill="#fff"/>
<rect x="885.9" y="399.7" width="2" height="2" rx="0.3" fill="#fff"/>
<rect x="885.9" y="402.5" width="2" height="2" rx="0.3" fill="#fff"/>
<rect x="888.7" y="396.9" width="2" height="2" rx="0.3" fill="#fff"/>
<rect x="888.7" y="399.7" width="2" height="2" rx="0.3" fill="#fff"/>
<rect x="888.7" y="402.5" width="2" height="2" rx="0.3" fill="#fff"/>
<rect x="891.5" y="396.9" width="2" height="2" rx="0.3" fill="#fff"/>
<rect x="891.5" y="399.7" width="2" height="2" rx="0.3" fill="#fff"/>
<rect x="891.5" y="402.5" width="2" height="2" rx="0.3" fill="#fff"/>
<g stroke="#2a2e39" stroke-width="0.9" fill="none" stroke-linecap="round"><path d="M884.6 423.2 a10.6 10.6 0 0 1 10.6 10.6"/><path d="M884.6 427 a6.8 6.8 0 0 1 6.8 6.8"/><path d="M884.6 430.6 a3.2 3.2 0 0 1 3.2 3.2"/></g><circle cx="885.2" cy="433.4" r="0.9" fill="#2a2e39"/>
<g stroke="#2a2e39" stroke-width="0.9" fill="none"><circle cx="889.8" cy="451" r="6"/><circle cx="895" cy="445.6" r="1.2" fill="#fff"/></g>
<text x="889.8" y="454" font-size="8.4" fill="#2a2e39" text-anchor="middle" font-weight="normal" >?</text>
<rect x="0" y="0" width="900" height="16.8" fill="#fff"/>
<rect x="0" y="16.7" width="900" height="2.4" fill="#e4e5e9"/>
<g stroke="#131722" stroke-width="0.9" fill="none"><circle cx="7.5" cy="7.6" r="2.7"/><path d="M9.5 9.6 l2.1 2.1"/></g>
<text x="15" y="10.6" font-size="6.6" fill="#131722" text-anchor="start" font-weight="bold"  textLength="11.3" lengthAdjust="spacingAndGlyphs" stroke="#131722" stroke-width="0.2">ATO</text>
<g stroke="#131722" stroke-width="0.75" fill="none"><circle cx="56.2" cy="8" r="4.6"/><path d="M53.3 8 h5.8 M56.2 5.1 v5.8"/></g>
<rect x="67.5" y="3.5" width="0.5" height="9.5" fill="#e6e8ee"/>
<rect x="90.8" y="3.5" width="0.5" height="9.5" fill="#e6e8ee"/>
<rect x="113.3" y="3.5" width="0.5" height="9.5" fill="#e6e8ee"/>
<rect x="188.3" y="3.5" width="0.5" height="9.5" fill="#e6e8ee"/>
<rect x="272.7" y="3.5" width="0.5" height="9.5" fill="#e6e8ee"/>
<rect x="787.3" y="3.5" width="0.5" height="9.5" fill="#e6e8ee"/>
<text x="78.8" y="10.7" font-size="6.4" fill="#131722" text-anchor="middle" font-weight="normal"  stroke="#131722" stroke-width="0.2">D</text>
<g stroke="#131722" stroke-width="0.75" fill="none"><rect x="98.4" y="5" width="2" height="6"/><path d="M99.4 3.4 v1.6 M99.4 11 v1.6"/><rect x="102.6" y="6" width="2" height="4"/><path d="M103.6 4.4 v1.6 M103.6 10 v1.6"/></g>
<g stroke="#131722" stroke-width="0.75" fill="none"><path d="M120.4 12.2 v-3 h1.8 v3 M123.4 12.2 v-4.4 h1.8 v4.4 M126.4 12.2 v-3.6 h1.8 v3.6"/><path d="M120.2 6.8 l2.2 -2.2 l1.8 1.4 l2.6 -2.4 l1.4 0.8"/></g>
<text x="132.8" y="10.9" font-size="6.9" fill="#131722" text-anchor="start" font-weight="normal"  textLength="29.6" lengthAdjust="spacingAndGlyphs" stroke="#131722" stroke-width="0.2">Indicators</text>
<g stroke="#131722" stroke-width="0.75" fill="none"><rect x="172.6" y="4.5" width="3" height="3" rx="0.7"/><rect x="177.6" y="4.5" width="3" height="3" rx="0.7"/><rect x="172.6" y="9" width="3" height="3" rx="0.7"/><rect x="177.6" y="9" width="3" height="3" rx="0.7"/></g>
<g stroke="#131722" stroke-width="0.75" fill="none"><circle cx="199.3" cy="8.5" r="4.2"/><path d="M199.3 6 v2.7 h-2"/><path d="M194.8 5 l1.8 -1.5 M203.8 5 l-1.8 -1.5"/></g><circle cx="202.6" cy="11.8" r="2" fill="#fff"/><path d="M201 12 h3.2 M202.6 10.4 v3.2" stroke="#131722" stroke-width="0.75"/>
<text x="208" y="10.9" font-size="6.9" fill="#131722" text-anchor="start" font-weight="normal"  textLength="15" lengthAdjust="spacingAndGlyphs" stroke="#131722" stroke-width="0.2">Alert</text>
<g stroke="#131722" stroke-width="0.75" fill="none"><path d="M237 5.4 l-3 2.6 l3 2.6 z M241 5.4 l-3 2.6 l3 2.6 z"/></g>
<text x="246" y="10.9" font-size="6.9" fill="#131722" text-anchor="start" font-weight="normal"  textLength="19.4" lengthAdjust="spacingAndGlyphs" stroke="#131722" stroke-width="0.2">Replay</text>
<path d="M280.8 7.4 h3.4 q2.8 0 2.8 3.4 M282.8 5.5 l-2 1.9 l2 1.9" stroke="#131722" stroke-width="0.8" fill="none"/>
<path d="M304.6 7.4 h-3.4 q-2.8 0 -2.8 3.4 M302.6 5.5 l2 1.9 l-2 1.9" stroke="#b2b5be" stroke-width="0.8" fill="none"/>
<rect x="726.6" y="4.1" width="9.2" height="8.4" rx="1" fill="none" stroke="#131722" stroke-width="0.8"/>
<text x="742.7" y="10.9" font-size="6.9" fill="#131722" text-anchor="start" font-weight="normal"  textLength="27.9" lengthAdjust="spacingAndGlyphs" stroke="#131722" stroke-width="0.2">Unnamed</text>
<path d="M777.6 7.4 l1.6 1.6 l1.6 -1.6" stroke="#131722" stroke-width="0.7" fill="none"/>
<g stroke="#131722" stroke-width="0.8" fill="none"><circle cx="797.8" cy="7.8" r="3.5"/><path d="M800.4 10.4 l2.6 2.6"/><path d="M798.8 2.8 l-2 4.6 h2.6 l-1.6 3.2" stroke-width="0.65" stroke="#131722"/></g>
<g stroke="#131722" stroke-width="0.8" fill="none" stroke-linejoin="round"><path d="M821.70 8.20 L819.30 12.36 L814.50 12.36 L812.10 8.20 L814.50 4.04 L819.30 4.04 Z"/><circle cx="816.9" cy="8.2" r="1.7"/></g>
<g stroke="#131722" stroke-width="0.85" fill="none"><path d="M831.4 6.4 v-2 h2 M837 4.4 h2 v2 M839 9.6 v2 h-2 M833.4 11.6 h-2 v-2"/></g>
<g stroke="#131722" stroke-width="0.8" fill="none"><path d="M848.6 5.8 h2 l0.8 -1.2 h3 l0.8 1.2 h2 v6 h-8.6 z"/><circle cx="852.9" cy="8.6" r="1.7"/></g>
<rect x="864.8" y="1.4" width="33.4" height="13.4" rx="6.7" fill="#1c1c1e"/>
<text x="871" y="10.5" font-size="6.6" fill="#fff" text-anchor="start" font-weight="bold"  textLength="21.2" lengthAdjust="spacingAndGlyphs">Publish</text>
</svg>
</body></html>
